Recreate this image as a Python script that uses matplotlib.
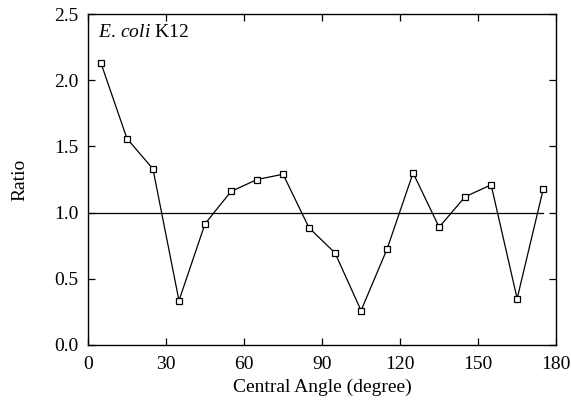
import matplotlib
matplotlib.use("Agg")
import matplotlib.pyplot as plt

# central angle bins (degree) and observed/expected ratio
angles = [5, 15, 25, 35, 45, 55, 65, 75, 85, 95, 105, 115, 125, 135, 145, 155, 165, 175]
ratio = [2.13, 1.56, 1.33, 0.335, 0.915, 1.16, 1.25, 1.29, 0.885, 0.695, 0.26, 0.725,
         1.30, 0.89, 1.12, 1.21, 0.35, 1.175]
xticks = [0, 30, 60, 90, 120, 150, 180]
yticks = [0.0, 0.5, 1.0, 1.5, 2.0, 2.5]

plt.rcParams['font.family'] = ['Liberation Serif', 'DejaVu Serif']
plt.rcParams['font.size'] = 14
plt.rcParams['mathtext.fontset'] = 'custom'
plt.rcParams['mathtext.rm'] = 'Liberation Serif'
plt.rcParams['mathtext.it'] = 'Liberation Serif:italic'

fig = plt.figure(figsize=(5.71, 4.03), dpi=100)
ax = fig.add_axes([0.154, 0.144, 0.82, 0.821])

ax.plot([0, 175], [1.0, 1.0], color='black', lw=0.9)
ax.plot(angles, ratio, color='black', lw=0.9, marker='s', markersize=5,
        markerfacecolor='white', markeredgecolor='black', markeredgewidth=0.9)

ax.set_xlim(0, 180)
ax.set_ylim(0, 2.5)
ax.set_xticks(xticks)
ax.set_yticks(yticks)
ax.set_yticklabels([f"{v:.1f}" for v in yticks])
ax.tick_params(direction='in', top=True, right=True, length=5, width=0.9, pad=7)
ax.tick_params(axis='x', pad=8)
for s in ax.spines.values():
    s.set_linewidth(1.0)

ax.set_xlabel("Central Angle (degree)", labelpad=4)
ax.set_ylabel("Ratio", labelpad=18)
ax.text(0.022, 0.97, r"$\it{E.\!\ coli}$ K12", transform=ax.transAxes, va='top', ha='left')

fig.savefig("out.png", dpi=100)
